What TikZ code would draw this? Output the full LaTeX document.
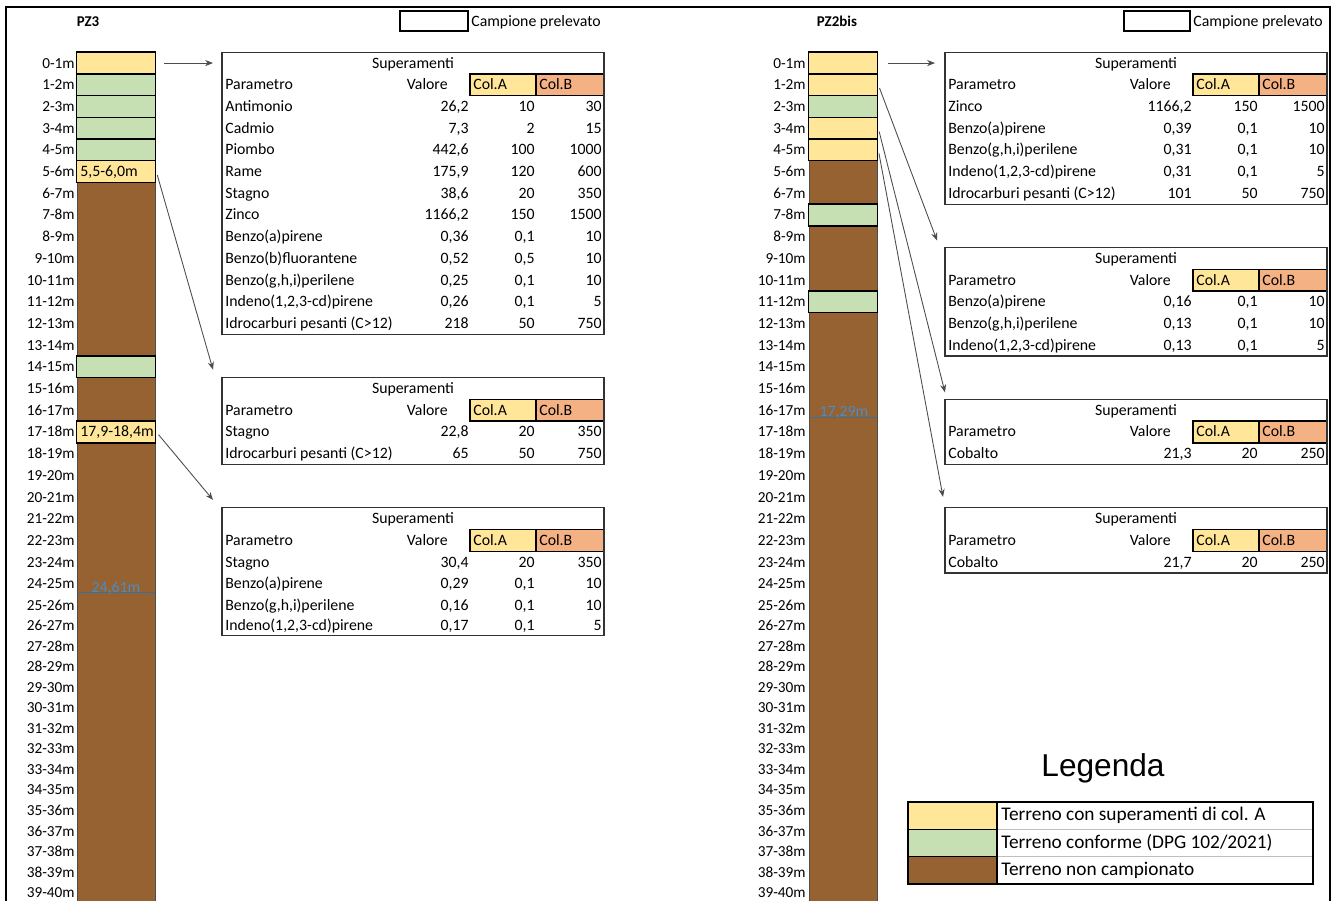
\documentclass[tikz,border=0pt]{standalone}
\usepackage{fontspec}
\setmainfont{Carlito}
\newfontfamily\legfont{Liberation Sans}
\usetikzlibrary{arrows.meta}
\definecolor{yel}{HTML}{FFE699}
\definecolor{grn}{HTML}{C6E0B4}
\definecolor{soil}{RGB}{150,98,50}
\definecolor{colB}{HTML}{F4B183}
\definecolor{falda}{HTML}{4A8CC4}
\tikzset{>={Stealth[length=4.5pt,width=3.5pt]},every node/.style={font=\fontsize{9}{10}\selectfont,inner sep=0pt,text height=1.5ex,text depth=.3ex},
flow/.style={->,draw=black!70,line width=.5pt,shorten <=2pt},
sample/.style={draw=black,line width=.9pt,minimum height=.434cm},
tabline/.style={draw=black!80,line width=.6pt},colbox/.style={draw=black,line width=.8pt},
depth/.style={anchor=east,font=\fontsize{8.7}{10}\selectfont}}
% row boundaries / row centres, in px
\newcommand{\by}[1]{(52.2+21.7*min(#1,25)+20.55*max(#1-25,0))}
\newcommand{\cy}[1]{((\by{#1}+\by{#1+1})/2)}
% table: name, left x, first row, rows
\newcommand{\Tab}[4]{%
\coordinate (#1) at (#2,{\by{#3}});
\node (#1s) at (#2+191,{\cy{#3}}) {Superamenti};
\node[anchor=west] (#1p) at (#2+3,{\cy{#3+1}}) {Parametro};
\node[anchor=east] (#1v) at (#2+226,{\cy{#3+1}}) {Valore};
\draw[colbox,fill=yel] (#2+248,{\by{#3+1}}) rectangle (#2+314,{\by{#3+2}});
\draw[colbox,fill=colB] (#2+314,{\by{#3+1}}) rectangle (#2+382,{\by{#3+2}});
\node[anchor=west] (#1a) at (#2+251,{\cy{#3+1}}) {Col.A};
\node[anchor=west] (#1b) at (#2+317,{\cy{#3+1}}) {Col.B};
\foreach \p/\v/\a/\b [count=\k from 2] in {#4}{
\node[anchor=west] (#1p\k) at (#2+3,{\cy{#3+\k}}) {\p};
\node[anchor=east] (#1v\k) at (#2+247,{\cy{#3+\k}}) {\v};
\node[anchor=east] (#1a\k) at (#2+313,{\cy{#3+\k}}) {\a};
\node[anchor=east] (#1b\k) at (#2+380,{\cy{#3+\k}}) {\b};
\xdef\last{\k}}
\draw[tabline] (#1) rectangle (#2+382,{\by{#3+\last+1}});}

\begin{document}
\begin{tikzpicture}[x=.02cm,y=-.02cm]
\useasboundingbox (0,0) rectangle (1336,900);
\draw[line width=.6pt] (6,910)--(6,7)--(1330,7)--(1330,910);
% headers
\node[font=\bfseries\fontsize{8.5}{10}\selectfont] (h3) at (88,21) {PZ3};
\draw[line width=.8pt] (400,11) rectangle (468,31);\node[anchor=west] (c3) at (471,21) {Campione prelevato};
\node[font=\bfseries\fontsize{8.5}{10}\selectfont] (h2) at (837,21) {PZ2bis};
\draw[line width=.8pt] (1124,11) rectangle (1190,31);\node[anchor=west] (c2) at (1193,21) {Campione prelevato};
% columns
\draw[draw=black!70,fill=soil] (77,{\by{0}}) rectangle (155,910);
\draw[draw=black!70,fill=soil] (809,{\by{0}}) rectangle (877,910);
\foreach \i [evaluate=\i as \j using int(\i+1)] in {0,...,39}{
\node[depth] (l\i) at (75,{\cy{\i}}) {\i-\j m};
\node[depth] (r\i) at (806,{\cy{\i}}) {\i-\j m};}
\foreach \r/\c in {0/yel,1/grn,2/grn,3/grn,4/grn,5/yel,14/grn,17/yel}
\node[sample,fill=\c,minimum width=1.58cm] (a\r) at (116,{\cy{\r}}) {};
\foreach \r/\c in {0/yel,1/yel,2/grn,3/yel,4/yel,7/grn,11/grn}
\node[sample,fill=\c,minimum width=1.38cm] (b\r) at (843,{\cy{\r}}) {};
\node[anchor=west] (a5t) at (80,{\cy{5}}) {5,5-6,0m};
\node[anchor=west] (a17t) at (80,{\cy{17}}) {17,9-18,4m};
% falda
\draw[falda!80!black,line width=.4pt] (78,592)--(155,592);\node[text=falda] (w3) at (116,587) {24,61m};
\draw[falda!80!black,line width=.4pt] (810,417)--(877,417);\node[text=falda] (w2) at (844,411) {17,29m};
% tables PZ3
\Tab{t1}{222}{0}{Antimonio/{26,2}/10/30,Cadmio/{7,3}/2/15,Piombo/{442,6}/100/1000,Rame/{175,9}/120/600,
Stagno/{38,6}/20/350,Zinco/{1166,2}/150/1500,Benzo(a)pirene/{0,36}/{0,1}/10,Benzo(b)fluorantene/{0,52}/{0,5}/10,
{Benzo(g,h,i)perilene}/{0,25}/{0,1}/10,{Indeno(1,2,3-cd)pirene}/{0,26}/{0,1}/5,Idrocarburi pesanti (C>12)/218/50/750}
\Tab{t2}{222}{15}{Stagno/{22,8}/20/350,Idrocarburi pesanti (C>12)/65/50/750}
\Tab{t3}{222}{21}{Stagno/{30,4}/20/350,Benzo(a)pirene/{0,29}/{0,1}/10,{Benzo(g,h,i)perilene}/{0,16}/{0,1}/10,
{Indeno(1,2,3-cd)pirene}/{0,17}/{0,1}/5}
% tables PZ2bis
\Tab{u1}{945}{0}{Zinco/{1166,2}/150/1500,Benzo(a)pirene/{0,39}/{0,1}/10,{Benzo(g,h,i)perilene}/{0,31}/{0,1}/10,
{Indeno(1,2,3-cd)pirene}/{0,31}/{0,1}/5,Idrocarburi pesanti (C>12)/101/50/750}
\Tab{u2}{945}{9}{Benzo(a)pirene/{0,16}/{0,1}/10,{Benzo(g,h,i)perilene}/{0,13}/{0,1}/10,{Indeno(1,2,3-cd)pirene}/{0,13}/{0,1}/5}
\Tab{u3}{945}{16}{Cobalto/{21,3}/20/250}
\Tab{u4}{945}{21}{Cobalto/{21,7}/20/250}
% arrows
\draw[flow,shorten <=.16cm,shorten >=.18cm] (a0.east)--(a0.east-|t1);
\draw[flow] (a5.east)--([shift={(-9,-8)}]t2);
\draw[flow] (a17.east)--([shift={(-9,-8)}]t3);
\draw[flow,shorten <=.2cm,shorten >=.2cm] (b0.east)--(b0.east-|u1);
\draw[flow] (b1.east)--([shift={(-8,-7)}]u2);
\draw[flow] (b3.east)--([shift={(0,-7)}]u3);
\draw[flow] (b4.east)--([shift={(-2,-11)}]u4);
% legenda
\node[font=\legfont\fontsize{18}{20}\selectfont] (leg) at (1103,771) {Legenda};
\foreach \c/\t [count=\k from 0] in {yel/Terreno con superamenti di col. A,grn/{Terreno conforme (DPG 102/2021)},soil/Terreno non campionato}{
\draw[black,line width=.9pt,fill=\c] (908,802+27.3*\k) rectangle (997,829.3+27.3*\k);
\draw[black!25,line width=.3pt] (997,829.3+27.3*\k)--(1313,829.3+27.3*\k);
\node[anchor=west,font=\fontsize{11}{13}\selectfont] (g\k) at (1001,815.7+27.3*\k) {\t};}
\draw[line width=.8pt] (908,802) rectangle (1313,884);
\end{tikzpicture}
\end{document}
